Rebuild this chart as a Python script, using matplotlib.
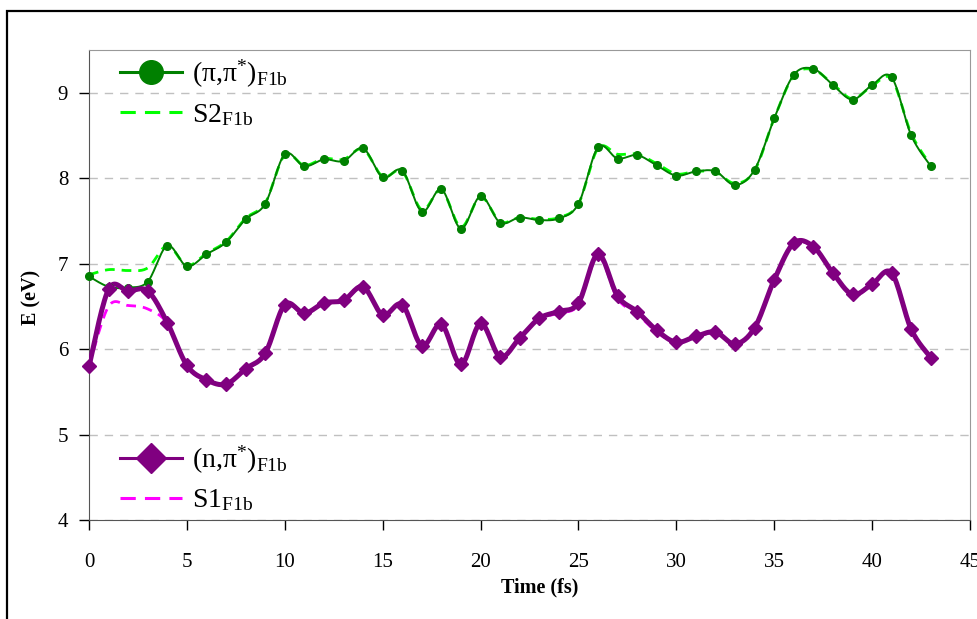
# Excitation energies along the trajectory: (pi,pi*) / (n,pi*) states vs S2 / S1
import numpy as np
import matplotlib.pyplot as plt
from matplotlib.lines import Line2D
from matplotlib.patches import Rectangle

plt.rcParams['font.family'] = ['Liberation Serif', 'DejaVu Serif']
plt.rcParams['mathtext.fontset'] = 'custom'
plt.rcParams['mathtext.rm'] = 'Liberation Serif'
plt.rcParams['mathtext.it'] = 'Liberation Serif:italic'
plt.rcParams['mathtext.bf'] = 'Liberation Serif:bold'

time_fs = list(range(44))
pipi = [6.85, 6.73, 6.72, 6.79, 7.21, 6.97, 7.11, 7.25, 7.52, 7.70,
        8.28, 8.14, 8.22, 8.20, 8.35, 8.01, 8.09, 7.61, 7.87, 7.41,
        7.79, 7.48, 7.54, 7.51, 7.53, 7.70, 8.36, 8.23, 8.27, 8.15,
        8.03, 8.08, 8.08, 7.92, 8.10, 8.70, 9.21, 9.28, 9.09, 8.92,
        9.09, 9.18, 8.50, 8.14]
s2 = [6.87, 6.93, 6.92, 6.95, 7.21, 6.98, 7.12, 7.26, 7.53, 7.71,
      8.27, 8.15, 8.23, 8.22, 8.34, 8.02, 8.08, 7.63, 7.86, 7.43,
      7.78, 7.49, 7.54, 7.52, 7.54, 7.70, 8.35, 8.28, 8.28, 8.17,
      8.05, 8.08, 8.07, 7.94, 8.09, 8.70, 9.20, 9.27, 9.10, 8.93,
      9.08, 9.16, 8.52, 8.15]
npi = [5.80, 6.70, 6.68, 6.68, 6.31, 5.81, 5.64, 5.59, 5.77, 5.95,
       6.52, 6.42, 6.54, 6.57, 6.73, 6.40, 6.52, 6.04, 6.29, 5.82,
       6.30, 5.91, 6.13, 6.36, 6.44, 6.54, 7.11, 6.62, 6.44, 6.22,
       6.08, 6.15, 6.20, 6.06, 6.25, 6.81, 7.24, 7.20, 6.89, 6.64,
       6.76, 6.89, 6.23, 5.90]
s1 = [5.80, 6.50, 6.51, 6.47, 6.30, 5.80, 5.63, 5.58, 5.76, 5.94,
      6.51, 6.41, 6.53, 6.56, 6.72, 6.39, 6.51, 6.03, 6.28, 5.81,
      6.29, 5.90, 6.12, 6.35, 6.42, 6.52, 7.08, 6.59, 6.41, 6.20,
      6.07, 6.14, 6.19, 6.05, 6.24, 6.80, 7.23, 7.19, 6.88, 6.63,
      6.75, 6.88, 6.22, 5.89]

labels = ['(π,π$^{*}$)$_{\\mathrm{F1b}}$', 'S2$_{\\mathrm{F1b}}$',
          '(n,π$^{*}$)$_{\\mathrm{F1b}}$', 'S1$_{\\mathrm{F1b}}$']

GREEN, LIME, PURPLE, MAGENTA = '#008000', '#00ff00', '#800080', '#ff00ff'


def smooth(x, y, n=16):
    # Catmull-Rom curve through the points (spreadsheet-style smoothed line)
    pts = np.column_stack([x, y]).astype(float)
    p = np.vstack([pts[0], pts, pts[-1]])
    s = np.linspace(0, 1, n, endpoint=False)[:, None]
    out = []
    for i in range(1, len(p) - 2):
        p0, p1, p2, p3 = p[i - 1], p[i], p[i + 1], p[i + 2]
        out.append(0.5 * (2 * p1 + (p2 - p0) * s
                          + (2 * p0 - 5 * p1 + 4 * p2 - p3) * s ** 2
                          + (-p0 + 3 * p1 - 3 * p2 + p3) * s ** 3))
    out.append(pts[-1:])
    c = np.vstack(out)
    return c[:, 0], c[:, 1]


fig = plt.figure(figsize=(9.78, 6.19), dpi=100)
ax = fig.add_axes([0.0910, 0.1599, 0.9008, 0.7593])

ax.plot(*smooth(time_fs, s2), color=LIME, lw=2.0, ls=(0, (3.5, 2.5)), zorder=2)
ax.plot(*smooth(time_fs, pipi), color=GREEN, lw=1.4, zorder=3)
ax.plot(time_fs, pipi, 'o', color=GREEN, ms=5.5, zorder=4, clip_on=False)

ax.plot(*smooth(time_fs, s1), color=MAGENTA, lw=2.0, ls=(0, (3.5, 2.5)), zorder=2)
ax.plot(*smooth(time_fs, npi), color=PURPLE, lw=3.6, zorder=3)
ax.plot(time_fs, npi, 'D', color=PURPLE, ms=7.5, zorder=4, clip_on=False)

ax.set_xlim(0, 45)
ax.set_ylim(4, 9.5)
ax.set_xticks(range(0, 46, 5))
ax.set_yticks(range(4, 10))
ax.yaxis.grid(True, color='#c0c0c0', ls=(0, (6, 5)), lw=1)
ax.set_axisbelow(True)

for side in ['top', 'right']:
    ax.spines[side].set_color('#999999')
for side in ['left', 'bottom']:
    ax.spines[side].set_color('#555555')
ax.tick_params(axis='both', direction='out', length=7, width=1,
               color='black', labelsize=15)
ax.tick_params(axis='x', pad=17)
ax.tick_params(axis='y', pad=8)

ax.set_xlabel('Time (fs)', fontsize=14.5, fontweight='bold')
ax.set_ylabel('E (eV)', fontsize=14.5, fontweight='bold')
ax.xaxis.set_label_coords(0.512, -0.122)
ax.yaxis.set_label_coords(-0.054, 0.474)

leg_kw = dict(loc='upper left', frameon=False, prop={'size': 20},
              handlelength=2.25, handletextpad=0.36, labelspacing=0.42,
              borderpad=0, borderaxespad=0)
h_top = [Line2D([], [], color=GREEN, lw=2.2, marker='o', ms=17),
         Line2D([], [], color=LIME, lw=2.2, ls=(0, (5, 3)))]
h_bot = [Line2D([], [], color=PURPLE, lw=2.2, marker='D', ms=15),
         Line2D([], [], color=MAGENTA, lw=2.2, ls=(0, (5, 3)))]
leg1 = ax.legend(h_top, labels[:2], bbox_to_anchor=(0.035, 0.983), **leg_kw)
ax.add_artist(leg1)
ax.legend(h_bot, labels[2:], bbox_to_anchor=(0.035, 0.163), **leg_kw)

# outer frame around the whole chart
fig.add_artist(Rectangle((7 / 978, -0.1), 1.2, 1.0 - 11 / 619 + 0.1,
                         transform=fig.transFigure, fill=False,
                         lw=1.6, ec='black', clip_on=False))

fig.savefig('out.png', dpi=100)
